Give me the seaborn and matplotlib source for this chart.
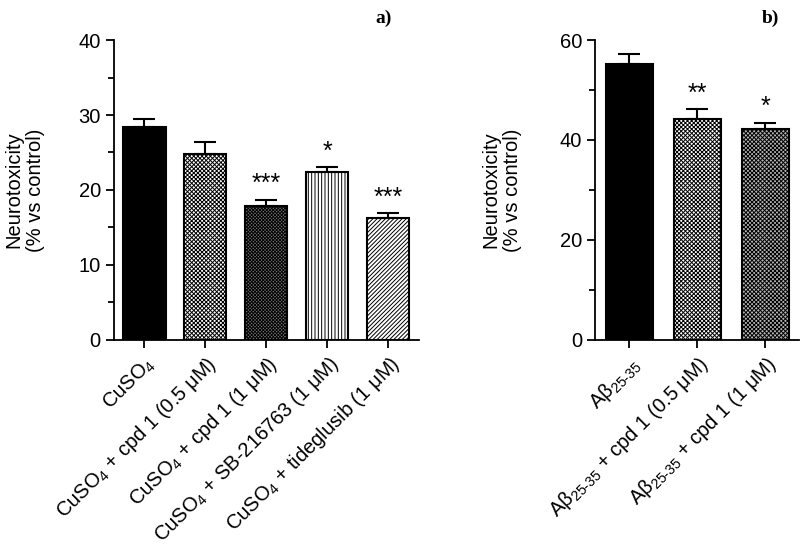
import numpy as np
import pandas as pd
import matplotlib
matplotlib.use("Agg")
import matplotlib.pyplot as plt
import seaborn as sb

#%% Dados
labels_a = ["CuSO$_4$",
            "CuSO$_4$ + cpd 1 (0.5 μM)",
            "CuSO$_4$ + cpd 1 (1 μM)",
            "CuSO$_4$ + SB-216763 (1 μM)",
            "CuSO$_4$ + tideglusib (1 μM)"]
mean_a = [28.4, 24.8, 17.8, 22.4, 16.2]
sem_a = [1.1, 1.6, 0.9, 0.6, 0.7]
stars_a = ["", "", "***", "*", "***"]

labels_b = ["Aβ$_{\\text{25-35}}$",
            "Aβ$_{\\text{25-35}}$ + cpd 1 (0.5 μM)",
            "Aβ$_{\\text{25-35}}$ + cpd 1 (1 μM)"]
mean_b = [55.2, 44.2, 42.3]
sem_b = [2.0, 2.0, 1.2]
stars_b = ["", "**", "*"]

#%% Estilo
sb.set_style("ticks")
plt.rcParams['font.family'] = ['Liberation Sans', 'DejaVu Sans']
plt.rcParams['mathtext.fontset'] = 'custom'
plt.rcParams['mathtext.rm'] = 'Liberation Sans'
plt.rcParams['mathtext.it'] = 'Liberation Sans:italic'
plt.rcParams['hatch.linewidth'] = 0.7
plt.rcParams['text.color'] = 'black'
plt.rcParams['axes.labelcolor'] = 'black'
plt.rcParams['xtick.color'] = 'black'
plt.rcParams['ytick.color'] = 'black'
plt.rcParams['axes.edgecolor'] = 'black'

fs = 14.5

fig = plt.figure(figsize=(8, 5.49), dpi=100)
ax1 = fig.add_axes([0.1425, 0.381, 0.381, 0.546])
ax2 = fig.add_axes([0.744, 0.381, 0.255, 0.546])

def painel(ax, labels, mean, sem, stars, hatches, faces, ymax, step, minor, pad):
    df = pd.DataFrame({"grupo": labels, "valor": mean})
    sb.barplot(data=df, x="grupo", y="valor", ax=ax, width=0.69,
               color="white", edgecolor="black", linewidth=1.5)
    for p, h, f in zip(ax.patches, hatches, faces):
        p.set_facecolor(f)
        p.set_hatch(h)
        p.set_edgecolor("black")
    x = np.arange(len(mean))
    ax.errorbar(x, mean, yerr=[np.zeros(len(sem)), sem], fmt="none",
                ecolor="black", elinewidth=1.5, capsize=8, capthick=1.5)
    for xi, m, s, st in zip(x, mean, sem, stars):
        if st:
            ax.text(xi, m + s + ymax * 0.012, st, ha="center", va="bottom",
                    fontsize=18)
    ax.set_ylim(0, ymax)
    ax.set_xlim(-0.5, len(mean) - 0.5)
    ax.set_yticks(np.arange(0, ymax + 1, step))
    ax.set_yticks(np.arange(0, ymax + 1, minor), minor=True)
    ax.set_xlabel("")
    ax.set_ylabel("Neurotoxicity\n(% vs control)", fontsize=fs, labelpad=pad)
    ax.set_xticks(x)
    ax.set_xticklabels(labels, rotation=45, ha="right",
                       rotation_mode="anchor", fontsize=fs)
    ax.tick_params(axis="both", which="major", length=6, width=1.3,
                   labelsize=fs, direction="out")
    ax.tick_params(axis="y", which="minor", length=4, width=1.3)
    for sp in ["left", "bottom"]:
        ax.spines[sp].set_linewidth(1.3)
    sb.despine(ax=ax)

painel(ax1, labels_a, mean_a, sem_a, stars_a,
       ["", "xxxxxxxx", "xxxxxxxxxx", "|||||", "////////"],
       ["black", "white", "#7a7a7a", "white", "white"],
       40, 10, 5, 24)
painel(ax2, labels_b, mean_b, sem_b, stars_b,
       ["", "xxxxxxxx", "xxxxxxxx"],
       ["black", "white", "#b5b5b5"],
       60, 20, 10, 27)

fig.text(0.479, 0.967, "a)", fontsize=14, fontweight="bold",
         family="Liberation Serif", ha="center", va="center")
fig.text(0.9625, 0.967, "b)", fontsize=14, fontweight="bold",
         family="Liberation Serif", ha="center", va="center")

plt.savefig("out.png", dpi=100)
